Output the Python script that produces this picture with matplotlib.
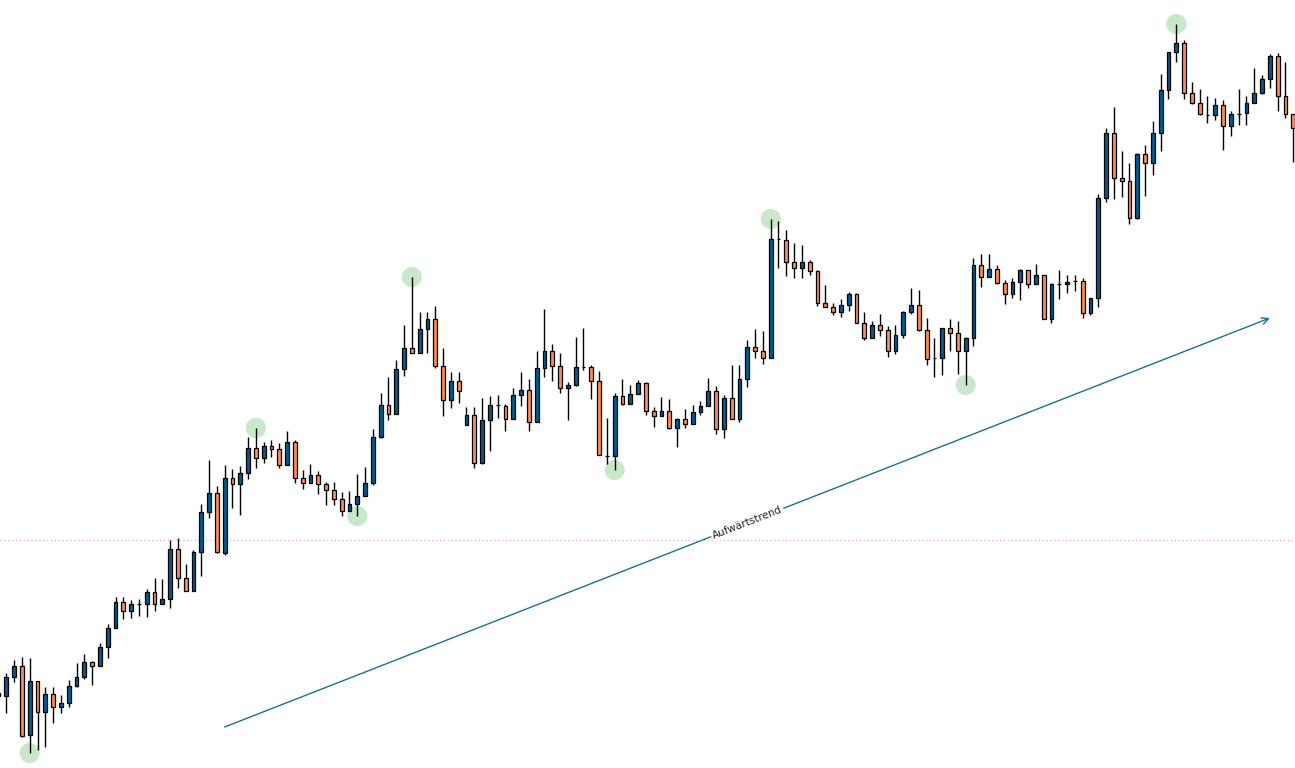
import numpy as np
import matplotlib
matplotlib.use("Agg")
import matplotlib.pyplot as plt

# OHLC values, one entry per candle (oldest first)
opens = [75, 72, 91, 102, 33, 87, 56, 74, 61, 65,
         82, 91, 106, 102, 121, 140, 166, 157, 164, 164,
         176, 164, 169, 219, 190, 177, 216, 256, 275, 215,
         290, 284, 295, 320, 310, 322, 319, 303, 326, 290,
         285, 293, 284, 278, 269, 257, 264, 272, 285, 331,
         363, 354, 399, 420, 415, 439, 449, 402, 368, 387,
         343, 353, 305, 348, 363, 362, 349, 373, 378, 346,
         400, 417, 402, 380, 383, 401, 401, 387, 312, 312,
         372, 364, 374, 385, 357, 352, 357, 340, 349, 344,
         356, 362, 377, 339, 370, 349, 389, 421, 417, 410,
         529, 528, 506, 500, 506, 497, 465, 461, 456, 463,
         474, 445, 430, 443, 438, 417, 433, 456, 463, 438,
         410, 410, 440, 435, 417, 430, 503, 491, 499, 485,
         474, 486, 498, 484, 493, 449, 484, 484, 487, 487,
         455, 470, 570, 635, 590, 587, 550, 614, 605, 635,
         678, 716, 725, 675, 665, 653, 653, 663, 642, 654,
         655, 665, 675, 689, 712, 672, 654]
highs = [76, 95, 108, 111, 110, 87, 81, 81, 73, 88,
         105, 114, 107, 125, 144, 171, 171, 168, 169, 179,
         190, 189, 228, 230, 204, 218, 264, 308, 282, 303,
         299, 302, 331, 340, 326, 328, 325, 337, 328, 298,
         304, 297, 286, 286, 276, 277, 294, 301, 339, 375,
         391, 408, 443, 491, 456, 456, 462, 420, 396, 396,
         361, 361, 370, 372, 373, 364, 380, 396, 389, 417,
         459, 424, 415, 386, 431, 440, 403, 397, 350, 375,
         389, 383, 388, 386, 361, 371, 369, 350, 359, 363,
         367, 390, 382, 373, 403, 403, 428, 439, 437, 549,
         547, 538, 525, 523, 508, 498, 483, 465, 469, 476,
         475, 456, 447, 454, 442, 443, 457, 480, 478, 450,
         430, 440, 449, 447, 431, 510, 514, 514, 503, 488,
         490, 499, 498, 504, 493, 485, 498, 493, 493, 490,
         470, 574, 640, 661, 617, 605, 615, 623, 647, 694,
         716, 744, 728, 686, 679, 672, 670, 668, 657, 679,
         672, 700, 693, 714, 715, 706, 654]
lows = [71, 55, 86, 31, 15, 18, 21, 45, 55, 61,
        81, 89, 83, 102, 110, 140, 149, 150, 152, 151,
        157, 164, 160, 180, 177, 177, 192, 250, 215, 213,
        260, 253, 289, 300, 305, 311, 300, 303, 285, 279,
        285, 274, 263, 263, 252, 257, 252, 272, 283, 330,
        348, 354, 392, 415, 415, 415, 400, 352, 360, 365,
        343, 300, 304, 317, 350, 337, 349, 362, 337, 346,
        391, 387, 375, 348, 382, 398, 369, 313, 304, 298,
        363, 364, 374, 353, 341, 352, 339, 321, 340, 344,
        353, 362, 334, 330, 349, 346, 381, 410, 404, 410,
        500, 492, 490, 490, 493, 462, 461, 453, 451, 457,
        445, 428, 430, 432, 411, 414, 430, 454, 437, 403,
        391, 393, 417, 394, 383, 422, 481, 491, 484, 464,
        470, 468, 480, 484, 449, 445, 469, 475, 477, 450,
        453, 461, 566, 569, 571, 544, 549, 572, 593, 617,
        669, 706, 669, 664, 653, 645, 648, 618, 632, 643,
        643, 665, 674, 680, 657, 650, 606]
closes = [72, 91, 102, 32, 87, 56, 74, 61, 65, 82,
          91, 106, 102, 121, 140, 166, 157, 164, 164, 176,
          164, 169, 219, 190, 177, 216, 256, 275, 216, 290,
          284, 295, 320, 310, 322, 319, 303, 326, 290, 285,
          293, 284, 278, 269, 257, 264, 272, 285, 331, 363,
          354, 399, 420, 415, 439, 449, 402, 368, 387, 377,
          353, 305, 348, 363, 363, 349, 373, 378, 346, 400,
          417, 402, 380, 383, 401, 401, 387, 313, 312, 372,
          364, 374, 385, 357, 352, 357, 340, 349, 344, 356,
          362, 377, 339, 370, 349, 389, 421, 417, 410, 529,
          529, 506, 500, 506, 497, 465, 461, 456, 463, 474,
          445, 430, 443, 438, 417, 433, 456, 463, 438, 409,
          410, 440, 435, 417, 430, 503, 491, 499, 485, 474,
          486, 498, 484, 493, 449, 484, 484, 486, 487, 455,
          470, 570, 635, 590, 587, 550, 614, 605, 635, 678,
          716, 725, 675, 665, 654, 653, 663, 642, 654, 654,
          665, 675, 689, 712, 672, 654, 640]

# swing points (candle number, 'h' = high / 'l' = low)
pivot_idx = [3, 32, 45, 52, 78, 98, 123, 150]
pivot_kind = ['l', 'h', 'l', 'h', 'l', 'h', 'l', 'h']

support_level = 228
trend_x = [28.0, 162.0]
trend_y = [41, 450]
trend_label = "Aufwärtstrend"

UP = '#045a8d'
DOWN = '#fc8d59'

o = np.array(opens); h = np.array(highs); l = np.array(lows); c = np.array(closes)
x = np.arange(len(o)) - 1

fig = plt.figure(figsize=(12.95, 7.68), dpi=100)
ax = fig.add_axes([0, 0, 1, 1])
ax.set_xlim(-0.808, 165.22)
ax.set_ylim(0, 768)
ax.axis('off')

ax.axhline(support_level, color='#d9a88e', lw=0.8, ls=(0, (1, 2.5)), zorder=1)

# pivot markers
px = [x[i + 1] for i in pivot_idx]
py = [h[i + 1] if k == 'h' else l[i + 1] for i, k in zip(pivot_idx, pivot_kind)]
ax.scatter(px, py, s=210, color='#c9e8ca', edgecolor='none', zorder=2)

colors = np.where(c >= o, UP, DOWN)
ax.vlines(x, l, h, color='black', lw=1.0, zorder=3)
ax.bar(x, np.abs(c - o), bottom=np.minimum(o, c), width=0.5,
       color=colors, edgecolor='black', linewidth=0.9, zorder=4)

# trend arrow
ax.annotate('', xy=(trend_x[1], trend_y[1]), xytext=(trend_x[0], trend_y[0]),
            arrowprops=dict(arrowstyle='->', color='#1f6e98', lw=1.0,
                            mutation_scale=12, shrinkA=0, shrinkB=0), zorder=5)
p = ax.transData.transform(np.column_stack([trend_x, trend_y]))
angle = np.degrees(np.arctan2(p[1, 1] - p[0, 1], p[1, 0] - p[0, 0]))
ax.text(np.mean(trend_x), np.mean(trend_y), trend_label, rotation=angle,
        rotation_mode='anchor', ha='center', va='center', fontsize=7.5,
        color='#222222', zorder=6,
        bbox=dict(boxstyle='square,pad=0.15', fc='white', ec='none'))

fig.savefig('out.png', dpi=100)
